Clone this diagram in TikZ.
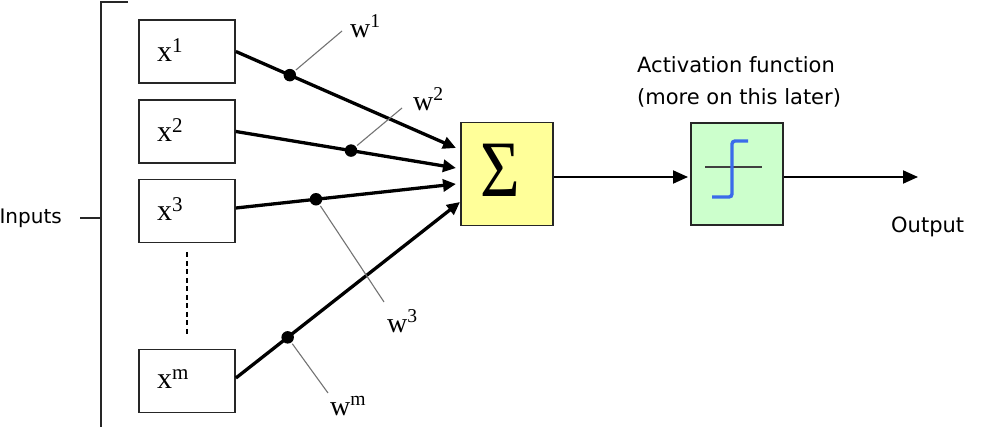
\documentclass[tikz,border=0pt]{standalone}
\usepackage{fontspec}
\setmainfont{Liberation Serif}
\newfontfamily\sansf{DejaVu Sans}
\usetikzlibrary{arrows.meta}
\definecolor{sumfill}{HTML}{FFFF99}
\definecolor{actfill}{HTML}{CCFFCC}
\definecolor{stepblue}{HTML}{3A6BEA}
\begin{document}
\begin{tikzpicture}[x=1pt,y=-1pt,
  inbox/.style={draw=black!85, line width=1.8pt, minimum width=96pt, minimum height=63pt,
    inner xsep=18pt, text width=60pt, align=left, font=\fontsize{30}{30}\selectfont},
  bigbox/.style={draw=black!85, line width=1.8pt, minimum width=92pt, minimum height=103pt, inner sep=0pt},
  inarrow/.style={line width=3.3pt, -{Triangle[length=13pt,width=12pt]}},
  outarrow/.style={line width=2pt, -{Triangle[length=15pt,width=13pt]}},
  dotnode/.style={circle, fill=black, minimum size=12.5pt, inner sep=0pt},
  leader/.style={draw=black!55, line width=1.1pt},
  wlabel/.style={anchor=base west, inner sep=0pt, font=\fontsize{28}{28}\selectfont},
  sanslabel/.style={font=\sansf\fontsize{21}{32}\selectfont, inner sep=0pt},
  bracket/.style={line width=2pt, draw=black!85}
]
\useasboundingbox (0,0) rectangle (987,426);

% inputs bracket
\node[sanslabel, font=\sansf\fontsize{20}{20}\selectfont, anchor=east] (inputs) at (62,218) {Inputs};
\coordinate (btr) at (128,2);
\coordinate (bt) at (101,2);
\coordinate (bb) at (101,430);
\coordinate (bm) at (101,218);
\draw[bracket] (btr) -- (bt) -- (bb);
\draw[bracket] ([xshift=18pt]inputs.east) -- (bm);

% input boxes
\node[inbox] (x1) at (187,51.5) {\raisebox{3pt}{x\textsuperscript{1}}};
\node[inbox] (x2) at (187,131.5) {\raisebox{3pt}{x\textsuperscript{2}}};
\node[inbox] (x3) at (187,211) {\raisebox{3pt}{x\textsuperscript{3}}};
\node[inbox] (xm) at (187,381) {\raisebox{3pt}{x\textsuperscript{m}}};
\draw[line width=1.5pt, dash pattern=on 5pt off 3.5pt, shorten <=9pt, shorten >=12pt] (x3.south) -- (xm.north);

% summation and activation
\node[bigbox, fill=sumfill] (sum) at (507,174) {};
\node[inner sep=0pt, font=\fontsize{80}{80}\selectfont] (sigma) at (500,170.5) {\scalebox{0.85}[1]{Σ}};
\node[bigbox, fill=actfill, minimum height=102pt] (act) at (737,174) {};
\draw[black!75, line width=1.5pt] (705,167) -- (762,167);
\draw[stepblue, line width=3.4pt, rounded corners=3pt] (712,197) -- (732,197) -- (732,141) -- (748,141);

% arrow tips
\coordinate (t1) at (456,148);
\coordinate (t2) at (456,168);
\coordinate (t3) at (456,184);
\coordinate (t4) at (460,202);

\draw[inarrow] (x1.east) -- node[dotnode, pos=0.245] (d1) {} (t1);
\draw[inarrow] (x2.east) -- node[dotnode, pos=0.523] (d2) {} (t2);
\draw[inarrow] ([yshift=3pt]x3.east) -- node[dotnode, pos=0.364] (d3) {} (t3);
\draw[inarrow] ([yshift=3pt]xm.east) -- node[dotnode, pos=0.231] (dm) {} (t4);

% weight leaders and labels
\coordinate (l1) at (342,31);
\coordinate (l2) at (402,108);
\coordinate (l3) at (384,302);
\coordinate (lm) at (328,393);
\draw[leader] (d1) -- (l1);
\draw[leader] (d2) -- (l2);
\draw[leader] (d3) -- (l3);
\draw[leader] (dm) -- (lm);
\node[wlabel] (w1) at (350,37) {w\textsuperscript{1}};
\node[wlabel] (w2) at (413,110) {w\textsuperscript{2}};
\node[wlabel] (w3) at (387,332) {w\textsuperscript{3}};
\node[wlabel] (wm) at (330,415) {w\textsuperscript{m}};

% output
\coordinate (sumout) at ([yshift=-3pt]sum.east);
\coordinate (actin) at (688,177);
\coordinate (actout) at ([yshift=-3pt]act.east);
\coordinate (outend) at (918,177);
\draw[outarrow] (sumout) -- (actin);
\draw[outarrow] (actout) -- (outend);

\node[sanslabel, anchor=north west, align=left] (actlabel) at (637,56) {Activation function\\(more on this later)};
\node[sanslabel, anchor=west] (output) at (891,227) {Output};
\end{tikzpicture}
\end{document}
